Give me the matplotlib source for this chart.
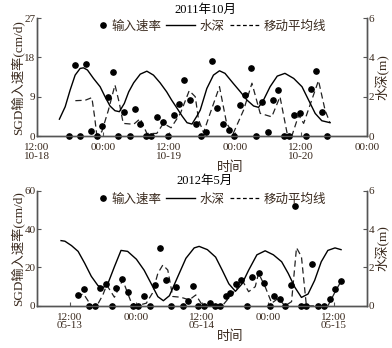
import matplotlib
matplotlib.use("Agg")
import matplotlib.pyplot as plt
from matplotlib.lines import Line2D
from matplotlib.legend_handler import HandlerLine2D

plt.rcParams['font.family'] = ['Liberation Serif', 'Noto Sans CJK SC']
plt.rcParams['axes.unicode_minus'] = False
txt_color = '#3a2a1e'

# ---- 2011年10月 (hours after 12:00 10-18) ----
oct_rate_x = [5.8, 6.9, 7.9, 8.9, 9.9, 10.9, 11.9, 12.9, 13.8, 14.8, 15.8, 17.0, 17.8, 18.8,
              19.8, 20.8, 21.9, 22.9, 23.9, 24.9, 25.9, 26.8, 27.9, 28.9, 29.9, 30.7, 31.9,
              32.8, 33.9, 34.9, 35.8, 36.9, 37.8, 38.9, 39.9, 40.9, 42.0, 43.0, 43.9, 44.9,
              45.8, 46.8, 47.9, 49.0, 49.9, 50.8, 51.9, 52.8]
oct_rate_y = [0, 16.2, 0, 16.6, 1.1, 0, 2.4, 9.0, 14.6, 0, 5.6, 0, 6.1, 2.7,
              0, 0, 4.4, 3.3, 0, 4.8, 7.3, 12.8, 8.2, 2.7, 0, 0.9, 17.2,
              6.5, 2.7, 1.5, 0, 7.0, 9.3, 15.6, 0, 7.9, 0.9, 8.2, 10.5, 0,
              0, 4.9, 5.3, 0, 10.8, 14.9, 5.5, 0]
oct_depth_x = [4.1, 5.15, 6.05, 6.96, 7.87, 8.48, 9.2, 10.3, 11.5, 12.4, 13.3, 14.2, 15.0, 15.9,
               16.7, 17.6, 18.8, 20.0, 21.2, 22.4, 23.6, 24.5, 25.5, 26.4, 27.3, 28.2, 29.1,
               29.7, 30.9, 32.1, 33.2, 34.2, 35.7, 37.0, 38.2, 39.4, 40.3, 41.2, 42.4, 43.7,
               45.1, 46.7, 48.2, 49.4, 50.6, 51.8, 53.3]
oct_depth_y = [0.86, 1.49, 2.34, 3.10, 3.44, 3.47, 3.36, 2.93, 2.51, 2.0, 1.53, 1.29, 1.24, 1.66,
               2.25, 2.71, 3.15, 3.30, 3.10, 2.71, 2.25, 1.83, 1.41, 1.02, 0.68, 0.61, 1.02,
               1.32, 2.42, 3.10, 3.32, 3.19, 2.68, 2.25, 1.83, 1.53, 1.46, 1.83, 2.51, 3.05,
               3.19, 2.93, 2.51, 1.83, 1.15, 0.78, 0.68]
oct_ma_x = [7.0, 8.8, 10.0, 10.5, 10.9, 11.8, 13.0, 14.2, 15.0, 15.7, 17.6, 18.8, 20.0, 21.8,
            23.0, 24.4, 26.1, 27.7, 28.8, 29.4, 30.3, 31.5, 33.2, 34.5, 35.7, 37.6, 39.1,
            40.6, 42.7, 44.2, 45.5, 46.4, 47.6, 48.5, 51.2, 52.4, 53.3]
oct_ma_y = [8.1, 8.2, 8.8, 4.4, 0.2, 1.0, 5.9, 11.7, 7.5, 2.9, 2.7, 4.0, 0.6, 0.6,
            2.9, 1.9, 5.2, 10.4, 9.0, 3.7, 0.8, 5.2, 11.3, 2.9, 0.6, 6.0, 12.1,
            5.2, 4.4, 9.0, 0.6, 0.2, 4.8, 2.9, 12.7, 5.9, 3.0]
oct_ticks = [0, 12, 24, 36, 48, 60]
oct_labels = ['12:00\n10-18', '00:00', '12:00\n10-19', '00:00', '12:00\n10-20', '00:00']

# ---- 2012年5月 (hours after 00:00 05-13) ----
may_rate_x = [13.5, 14.5, 15.5, 16.5, 17.4, 18.5, 19.6, 20.4, 21.4, 22.5, 23.4, 24.3, 25.4,
              26.5, 27.4, 28.4, 29.4, 30.4, 31.3, 32.5, 33.4, 34.4, 35.3, 36.3, 37.4, 38.3,
              39.3, 40.3, 41.2, 42.2, 43.2, 44.2, 45.2, 46.3, 47.3, 48.4, 49.2, 50.2, 51.2,
              52.2, 53.0, 54.0, 55.0, 56.1, 57.1, 58.2, 59.2, 60.2, 61.2]
may_rate_y = [5.6, 8.7, 0, 0, 9.2, 11.3, 0, 9.4, 13.9, 7.4, 0, 0, 4.9,
              0, 10.9, 30.0, 13.5, 0, 10.0, 0, 2.4, 10.6, 0, 0, 1.7, 0,
              0, 4.9, 6.6, 11.4, 13.5, 0, 14.9, 17.0, 11.8, 0, 5.4, 3.5, 0,
              10.9, 52.2, 0, 0, 21.7, 0, 0, 3.5, 8.8, 12.8]
may_depth_x = [10.4, 11.1, 12.3, 13.5, 14.7, 15.9, 17.1, 18.0, 18.9, 20.1, 21.3, 22.5, 24.1,
               25.5, 26.8, 28.0, 29.0, 30.1, 31.6, 33.1, 34.6, 35.5, 37.0, 38.5, 39.7, 40.9,
               42.1, 43.3, 44.5, 46.0, 47.5, 49.0, 50.5, 51.7, 52.9, 54.1, 55.3, 56.5, 57.7,
               58.9, 60.2, 61.3]
may_depth_y = [3.40, 3.37, 3.14, 2.84, 2.22, 1.54, 1.06, 0.94, 1.15, 2.04, 2.89, 2.84, 2.43,
               1.86, 1.15, 0.48, 0.27, 0.53, 1.51, 2.48, 3.02, 3.10, 2.93, 2.54, 1.86, 1.15,
               0.76, 1.15, 1.86, 2.66, 2.87, 2.66, 2.30, 1.69, 0.97, 0.44, 0.62, 1.33, 2.30,
               2.89, 3.02, 2.93]
may_ma_x = [13.2, 14.5, 15.9, 16.9, 18.0, 18.7, 20.1, 21.6, 23.1, 24.1, 25.9, 27.0, 28.0,
            28.9, 29.8, 30.7, 32.2, 33.7, 34.9, 36.1, 39.7, 42.1, 43.3, 44.5, 45.7, 46.3,
            47.5, 48.7, 49.9, 51.1, 52.3, 53.2, 54.1, 55.0, 58.9, 60.4, 61.1]
may_ma_y = [5.2, 6.2, 0, 0, 5.7, 10.9, 4.5, 13.5, 2.2, 0, 1.4, 6.6, 17.0,
            21.3, 18.7, 4.9, 4.5, 3.1, 5.7, 0.3, 0, 8.3, 13.5, 7.4, 10.0, 17.0,
            10.0, 1.4, 4.0, 0, 2.2, 30.3, 25.6, 0, 0, 8.3, 11.8]
may_ticks = [12, 24, 36, 48, 60]
may_labels = ['12:00\n05-13', '00:00', '12:00\n05-14', '00:00', '12:00\n05-15']


class DotAtEnd(HandlerLine2D):
    # put the dot near the right end of its legend slot, close to its text
    def get_xdata(self, legend, xdescent, ydescent, width, height, fontsize):
        x = -xdescent + width - 2
        return [x, x], [x]


fig = plt.figure(figsize=(3.92, 3.48), dpi=100)
ax1 = fig.add_axes([0.094, 0.609, 0.842, 0.339])
ax2 = fig.add_axes([0.094, 0.121, 0.842, 0.331])


def draw(ax, rx, ry, dx, dy, mx, my, xlim, ylim, yticks, ticks, labels, title, title_y):
    ax.plot(rx, ry, 'o', color='black', markersize=3.8, clip_on=False, zorder=5)
    ax.plot(mx, my, color='#222222', lw=0.9, dashes=(5, 3))
    ax.set_xlim(*xlim)
    ax.set_ylim(*ylim)
    ax.set_yticks(yticks)
    ax.set_xticks(ticks)
    ax.set_xticklabels(labels)
    for lab in ax.get_xticklabels():
        lab.set_linespacing(0.95)
    axr = ax.twinx()
    axr.plot(dx, dy, color='black', lw=1.0)
    axr.set_ylim(0, 6)
    axr.set_yticks([0, 2, 4, 6])
    for a in (ax, axr):
        a.spines['top'].set_visible(False)
        for s in a.spines.values():
            s.set_color('#555555')
            s.set_linewidth(1.0)
        a.tick_params(direction='in', length=3, labelsize=8, colors=txt_color,
                      pad=1, color='#555555')
    ax.tick_params(axis='x', pad=5)
    ax.set_ylabel('SGD输入速率(cm/d)', fontsize=9.5, color=txt_color, labelpad=0)
    axr.set_ylabel('水深(m)', fontsize=9.5, color=txt_color, labelpad=1)
    ax.set_xlabel('时间', fontsize=9.5, color=txt_color)
    ax.xaxis.set_label_coords(0.585, -0.215)
    fig.text(0.523, title_y, title, ha='center', va='center', fontsize=9, color='black')
    dot = Line2D([], [], marker='o', ls='none', color='black', markersize=3.8)
    handles = [dot,
               Line2D([], [], color='black', lw=1.0),
               Line2D([], [], color='black', lw=0.9, dashes=(3, 2))]
    leg = ax.legend(handles, ['输入速率', '水深', '移动平均线'], ncol=3, frameon=False,
                    loc='upper center', bbox_to_anchor=(0.5, 1.075), fontsize=9,
                    handlelength=2.3, columnspacing=0.4, handletextpad=0.4,
                    handler_map={dot: DotAtEnd()})
    for t in leg.get_texts():
        t.set_color(txt_color)


draw(ax1, oct_rate_x, oct_rate_y, oct_depth_x, oct_depth_y, oct_ma_x, oct_ma_y,
     (0, 60), (0, 27), [0, 9, 18, 27], oct_ticks, oct_labels, '2011年10月', 0.972)
draw(ax2, may_rate_x, may_rate_y, may_depth_x, may_depth_y, may_ma_x, may_ma_y,
     (6, 66), (0, 60), [0, 20, 40, 60], may_ticks, may_labels, '2012年5月', 0.48)

fig.savefig('out.png', dpi=100)
